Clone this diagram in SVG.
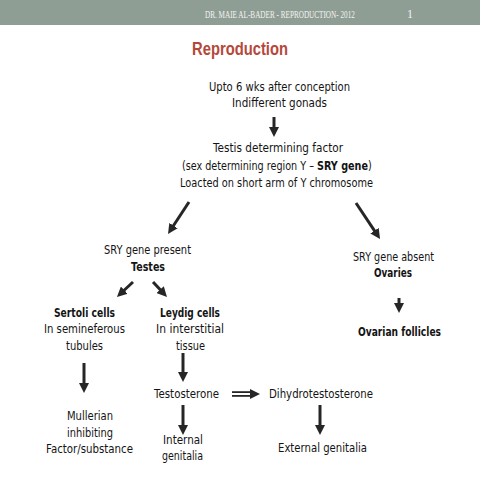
<svg xmlns="http://www.w3.org/2000/svg" width="480" height="480" viewBox="0 0 480 480">
<defs>
<style>
.t{font-family:"DejaVu Sans","Open Sans",sans-serif;font-size:12.5px;fill:#141414}
.b{font-weight:bold}
.c{stroke:#262626;stroke-width:3;fill:none;marker-end:url(#ah)}
</style>
<marker id="ah" markerUnits="userSpaceOnUse" markerWidth="10" markerHeight="10" viewBox="0 0 10 10" refX="2" refY="5" orient="auto">
<path d="M0,0 L10,5 L0,10 z" fill="#262626"/>
</marker>
</defs>
<rect x="0" y="0" width="480" height="480" fill="#ffffff"/>
<g id="header">
<rect x="0" y="0" width="480" height="25" fill="#8f9e94"/>
<text transform="translate(205,18) scale(0.72,1)" x="0" y="0" font-family="Liberation Serif,serif" font-size="10" fill="#f2f2f2">DR. MAIE AL-BADER - REPRODUCTION- 2012</text>
<text x="407" y="18" font-family="Liberation Serif,serif" font-size="12" fill="#f2f2f2">1</text>
</g>
<g id="title">
<text x="192" y="55" font-family="Liberation Sans,Arial,sans-serif" font-size="18" font-weight="bold" fill="#b5483a" textLength="96" lengthAdjust="spacingAndGlyphs">Reproduction</text>
</g>
<g id="connectors">
<line class="c" x1="274" y1="117" x2="274" y2="129"/>
<line class="c" x1="189" y1="202" x2="172.4" y2="227.3"/>
<line class="c" x1="356" y1="203" x2="375.6" y2="232.3"/>
<line class="c" x1="399" y1="298" x2="399" y2="305"/>
<line class="c" x1="133" y1="282" x2="122.8" y2="291.5"/>
<line class="c" x1="153" y1="282" x2="161.5" y2="291.1"/>
<line class="c" x1="84" y1="363" x2="84" y2="385"/>
<line class="c" x1="183" y1="353" x2="183" y2="374"/>
<line class="c" x1="183" y1="405" x2="183" y2="427"/>
<line class="c" x1="320" y1="405" x2="320" y2="427"/>
<line x1="232" y1="394" x2="252" y2="394" stroke="none" marker-end="url(#ah)"/>
<line x1="232" y1="392.1" x2="253" y2="392.1" stroke="#262626" stroke-width="1.8"/>
<line x1="232" y1="395.9" x2="253" y2="395.9" stroke="#262626" stroke-width="1.8"/>
</g>
<g id="start">
<text class="t" x="209" y="91" textLength="141" lengthAdjust="spacingAndGlyphs">Upto 6 wks after conception</text>
<text class="t" x="232" y="107" textLength="95" lengthAdjust="spacingAndGlyphs">Indifferent gonads</text>
</g>
<g id="tdf">
<text class="t" x="213" y="152" textLength="130" lengthAdjust="spacingAndGlyphs">Testis determining factor</text>
<text class="t" transform="translate(182,170) scale(0.77,1)" x="0" y="0">(sex determining region Y – <tspan class="b">SRY gene</tspan>)</text>
<text class="t" x="180" y="187" textLength="193" lengthAdjust="spacingAndGlyphs">Loacted on short arm of Y chromosome</text>
</g>
<g id="present">
<text class="t" x="104" y="254" textLength="87" lengthAdjust="spacingAndGlyphs">SRY gene present</text>
<text class="t b" x="131" y="271" textLength="34" lengthAdjust="spacingAndGlyphs">Testes</text>
</g>
<g id="absent">
<text class="t" x="353" y="261" textLength="81" lengthAdjust="spacingAndGlyphs">SRY gene absent</text>
<text class="t b" x="374" y="277" textLength="38" lengthAdjust="spacingAndGlyphs">Ovaries</text>
</g>
<g id="follicles">
<text class="t b" x="358" y="336" textLength="83" lengthAdjust="spacingAndGlyphs">Ovarian follicles</text>
</g>
<g id="sertoli">
<text class="t b" x="54" y="317" textLength="61" lengthAdjust="spacingAndGlyphs">Sertoli cells</text>
<text class="t" x="44" y="333" textLength="81" lengthAdjust="spacingAndGlyphs">In semineferous</text>
<text class="t" x="66" y="350" textLength="37" lengthAdjust="spacingAndGlyphs">tubules</text>
</g>
<g id="mis">
<text class="t" x="67" y="420" textLength="46" lengthAdjust="spacingAndGlyphs">Mullerian</text>
<text class="t" x="67" y="437" textLength="46" lengthAdjust="spacingAndGlyphs">inhibiting</text>
<text class="t" x="46" y="453" textLength="87" lengthAdjust="spacingAndGlyphs">Factor/substance</text>
</g>
<g id="leydig">
<text class="t b" x="160" y="317" textLength="60" lengthAdjust="spacingAndGlyphs">Leydig cells</text>
<text class="t" x="156" y="333" textLength="68" lengthAdjust="spacingAndGlyphs">In interstitial</text>
<text class="t" x="176" y="350" textLength="29" lengthAdjust="spacingAndGlyphs">tissue</text>
</g>
<g id="testosterone">
<text class="t" x="154" y="398" textLength="65" lengthAdjust="spacingAndGlyphs">Testosterone</text>
</g>
<g id="internal">
<text class="t" x="163" y="444" textLength="40" lengthAdjust="spacingAndGlyphs">Internal</text>
<text class="t" x="162" y="460" textLength="41" lengthAdjust="spacingAndGlyphs">genitalia</text>
</g>
<g id="dht">
<text class="t" x="269" y="398" textLength="104" lengthAdjust="spacingAndGlyphs">Dihydrotestosterone</text>
</g>
<g id="external">
<text class="t" x="278" y="452" textLength="89" lengthAdjust="spacingAndGlyphs">External genitalia</text>
</g>
</svg>
